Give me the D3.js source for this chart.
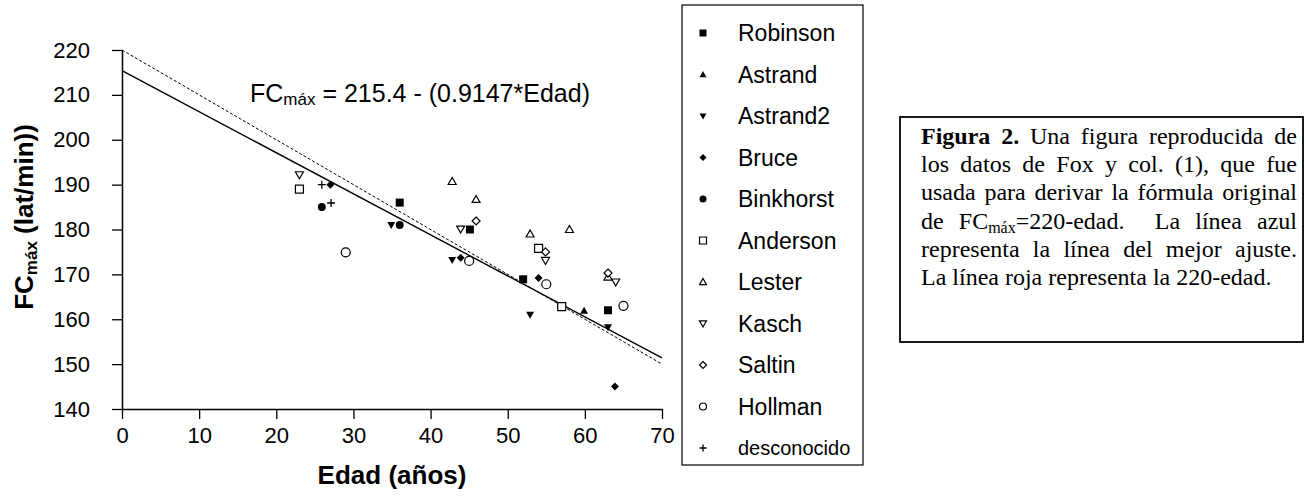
<!DOCTYPE html>
<html>
<head>
<meta charset="utf-8">
<script src="https://cdn.jsdelivr.net/npm/d3@7/dist/d3.min.js"></script>
<style>
  body { margin: 0; background: #fff; }
  text { font-family: Arial, "Liberation Sans", sans-serif; fill: #000; }
  .serif { font-family: "Times New Roman", "Liberation Serif", serif; }
</style>
</head>
<body>
<svg id="chart" width="1306" height="501"></svg>
<script>
// Datos de Fox y col.: [edad, FCmax]
var robinson    = [[36.0, 186], [45.1, 180], [52.0, 168.9], [63.0, 162]];
var astrand     = [[59.9, 161.9]];
var astrand2    = [[34.9, 181], [42.8, 173.2], [52.9, 161], [63.0, 158.2]];
var bruce       = [[27.0, 190], [43.9, 173.7], [54.0, 169.2], [63.9, 145]];
var binkhorst   = [[25.9, 185], [36.0, 181]];
var anderson    = [[23.0, 189], [54.0, 175.8], [57.0, 162.8]];
var lester      = [[42.8, 190.7], [45.9, 186.7], [52.9, 179], [58.0, 180], [63.0, 169.4]];
var kasch       = [[23.0, 192.2], [43.9, 180.1], [54.9, 173.1], [64.0, 168.3]];
var saltin      = [[45.9, 181.9], [54.9, 175], [63.0, 170.3]];
var hollman     = [[29.0, 174.9], [45.0, 173], [55.0, 167.8], [65.0, 163]];
var desconocido = [[25.9, 190], [27.1, 185.9]];

var seriesNames = ['Robinson', 'Astrand', 'Astrand2', 'Bruce', 'Binkhorst', 'Anderson',
  'Lester', 'Kasch', 'Saltin', 'Hollman', 'desconocido'];
var seriesShapes = ['square', 'triUp', 'triDown', 'diamond', 'circle', 'square',
  'triUp', 'triDown', 'diamond', 'circle', 'plus'];
var seriesFilled = [true, true, true, true, true, false, false, false, false, false, false];
var seriesData = [robinson, astrand, astrand2, bruce, binkhorst, anderson,
  lester, kasch, saltin, hollman, desconocido];

var xTicks = [0, 10, 20, 30, 40, 50, 60, 70];
var yTicks = [140, 150, 160, 170, 180, 190, 200, 210, 220];

// best fit and 220 - edad
var fitCoef = [215.4, -0.9147];
var refCoef = [220, -1];
var lineRange = [0, 70];

var captionLines = [
  [[{t: 'Figura', b: true}], [{t: '2.', b: true}], [{t: 'Una'}], [{t: 'figura'}], [{t: 'reproducida'}], [{t: 'de'}]],
  [[{t: 'los'}], [{t: 'datos'}], [{t: 'de'}], [{t: 'Fox'}], [{t: 'y'}], [{t: 'col.'}], [{t: '(1),'}], [{t: 'que'}], [{t: 'fue'}]],
  [[{t: 'usada'}], [{t: 'para'}], [{t: 'derivar'}], [{t: 'la'}], [{t: 'fórmula'}], [{t: 'original'}]],
  [[{t: 'de'}], [{t: 'FC'}, {t: 'máx', sub: true}, {t: '=220-edad.'}], [{t: ''}], [{t: 'La'}], [{t: 'línea'}], [{t: 'azul'}]],
  [[{t: 'representa'}], [{t: 'la'}], [{t: 'línea'}], [{t: 'del'}], [{t: 'mejor'}], [{t: 'ajuste.'}]],
  [[{t: 'La'}], [{t: 'línea'}], [{t: 'roja'}], [{t: 'representa'}], [{t: 'la'}], [{t: '220-edad.'}]]
];

var svg = d3.select('#chart');

var x = d3.scaleLinear().domain([0, 70]).range([122, 662]);
var y = d3.scaleLinear().domain([140, 220]).range([409, 50]);

// custom marker paths, s = full width
function markerPath(kind, s) {
  var h = s / 2;
  switch (kind) {
    case 'square':
      return 'M' + (-h) + ',' + (-h) + 'h' + s + 'v' + s + 'h' + (-s) + 'Z';
    case 'triUp':
      return 'M0,' + (-h) + 'L' + h + ',' + (h * 0.75) + 'L' + (-h) + ',' + (h * 0.75) + 'Z';
    case 'triDown':
      return 'M0,' + h + 'L' + h + ',' + (-h * 0.75) + 'L' + (-h) + ',' + (-h * 0.75) + 'Z';
    case 'diamond':
      return 'M0,' + (-h) + 'L' + h + ',0L0,' + h + 'L' + (-h) + ',0Z';
    case 'circle':
      return 'M' + h + ',0A' + h + ',' + h + ' 0 1,1 ' + (-h) + ',0A' + h + ',' + h + ' 0 1,1 ' + h + ',0Z';
    case 'plus':
      return 'M' + (-h) + ',0H' + h + 'M0,' + (-h) + 'V' + h;
  }
}

function styleMarker(sel, i) {
  var kind = seriesShapes[i];
  if (kind === 'plus') {
    sel.attr('fill', 'none').attr('stroke', '#000').attr('stroke-width', 1.3);
  } else if (seriesFilled[i]) {
    sel.attr('fill', '#000').attr('stroke', 'none');
  } else {
    sel.attr('fill', '#fff').attr('stroke', '#000').attr('stroke-width', 1.2);
  }
}

// axes
var yAxis = svg.append('g')
  .attr('transform', 'translate(' + x(0) + ',0)')
  .call(d3.axisLeft(y).tickValues(yTicks).tickSize(10).tickSizeOuter(0).tickPadding(22));
var xAxis = svg.append('g')
  .attr('transform', 'translate(0,' + y(140) + ')')
  .call(d3.axisBottom(x).tickValues(xTicks).tickSize(10).tickSizeOuter(0).tickPadding(8));

[xAxis, yAxis].forEach(function (g) {
  g.select('.domain').attr('stroke', '#000').attr('stroke-width', 1.5);
  g.selectAll('.tick line').attr('stroke', '#000').attr('stroke-width', 1.3);
  g.selectAll('.tick text').style('font-size', '22px').attr('fill', '#000')
    .style('font-family', 'Arial, "Liberation Sans", sans-serif');
});

// lines
var line = d3.line().x(function (d) { return x(d[0]); }).y(function (d) { return y(d[1]); });
function linePts(c) {
  return lineRange.map(function (a) { return [a, c[0] + c[1] * a]; });
}
svg.append('path').datum(linePts(refCoef)).attr('d', line)
  .attr('fill', 'none').attr('stroke', '#000').attr('stroke-width', 1).attr('stroke-dasharray', '3,2');
svg.append('path').datum(linePts(fitCoef)).attr('d', line)
  .attr('fill', 'none').attr('stroke', '#000').attr('stroke-width', 1.4);

// points
seriesData.forEach(function (data, i) {
  svg.append('g').selectAll('path')
    .data(data)
    .enter()
    .append('path')
    .attr('transform', function (d) { return 'translate(' + x(d[0]) + ',' + y(d[1]) + ')'; })
    .attr('d', markerPath(seriesShapes[i], seriesShapes[i] === 'circle' && !seriesFilled[i] ? 9 : 8))
    .call(styleMarker, i);
});

// equation
var eq = svg.append('text').attr('x', 250).attr('y', 102).style('font-size', '25px');
eq.append('tspan').text('FC');
eq.append('tspan').attr('dy', 3).style('font-size', '17px').text('máx');
eq.append('tspan').attr('dy', -3).text(' = 215.4 - (0.9147*Edad)');

// axis titles
svg.append('text').attr('x', 392).attr('y', 484).attr('text-anchor', 'middle')
  .style('font-size', '26px').style('font-weight', 'bold').text('Edad (años)');

var yt = svg.append('text').attr('transform', 'translate(33,217) rotate(-90)')
  .attr('text-anchor', 'middle').style('font-size', '26px').style('font-weight', 'bold');
yt.append('tspan').text('FC');
yt.append('tspan').attr('dy', 4).style('font-size', '17px').text('máx');
yt.append('tspan').attr('dy', -4).text(' (lat/min))');

// legend
svg.append('rect').attr('x', 682).attr('y', 5).attr('width', 181).attr('height', 460)
  .attr('fill', '#fff').attr('stroke', '#000').attr('stroke-width', 1.2);
var legendY = d3.scalePoint().domain(seriesNames).range([33, 448]);
var items = svg.append('g').selectAll('g')
  .data(seriesNames)
  .enter()
  .append('g')
  .attr('transform', function (d) { return 'translate(0,' + legendY(d) + ')'; });
items.append('path')
  .attr('transform', 'translate(703,0)')
  .attr('d', function (d, i) { return markerPath(seriesShapes[i], 7); })
  .each(function (d, i) { styleMarker(d3.select(this), i); });
items.append('text')
  .attr('x', 738).attr('dy', '0.36em')
  .style('font-size', function (d) { return d === 'desconocido' ? '20px' : '23px'; })
  .text(function (d) { return d; });

// caption box
svg.append('rect').attr('x', 900).attr('y', 117).attr('width', 403).attr('height', 225)
  .attr('fill', '#fff').attr('stroke', '#000').attr('stroke-width', 1.8);

var capLeft = 921, capRight = 1297, capTop = 144, capLead = 28.2;
captionLines.forEach(function (words, li) {
  var by = capTop + li * capLead;
  var g = svg.append('g');
  var nodes = words.map(function (segs) {
    var t = g.append('text').attr('class', 'serif').attr('y', by).style('font-size', '24px');
    segs.forEach(function (s) {
      var ts = t.append('tspan').text(s.t);
      if (s.b) ts.style('font-weight', 'bold');
      if (s.sub) ts.attr('dy', 4).style('font-size', '16px');
      else if (t.selectAll('tspan').size() > 1) ts.attr('dy', -4);
    });
    return t;
  });
  var widths = nodes.map(function (n) { return n.node().getComputedTextLength(); });
  var total = d3.sum(widths);
  var gap = li === captionLines.length - 1 ? 6 : (capRight - capLeft - total) / (nodes.length - 1);
  var cx = capLeft;
  nodes.forEach(function (n, k) {
    n.attr('x', cx);
    cx += widths[k] + gap;
  });
});
</script>
</body>
</html>
